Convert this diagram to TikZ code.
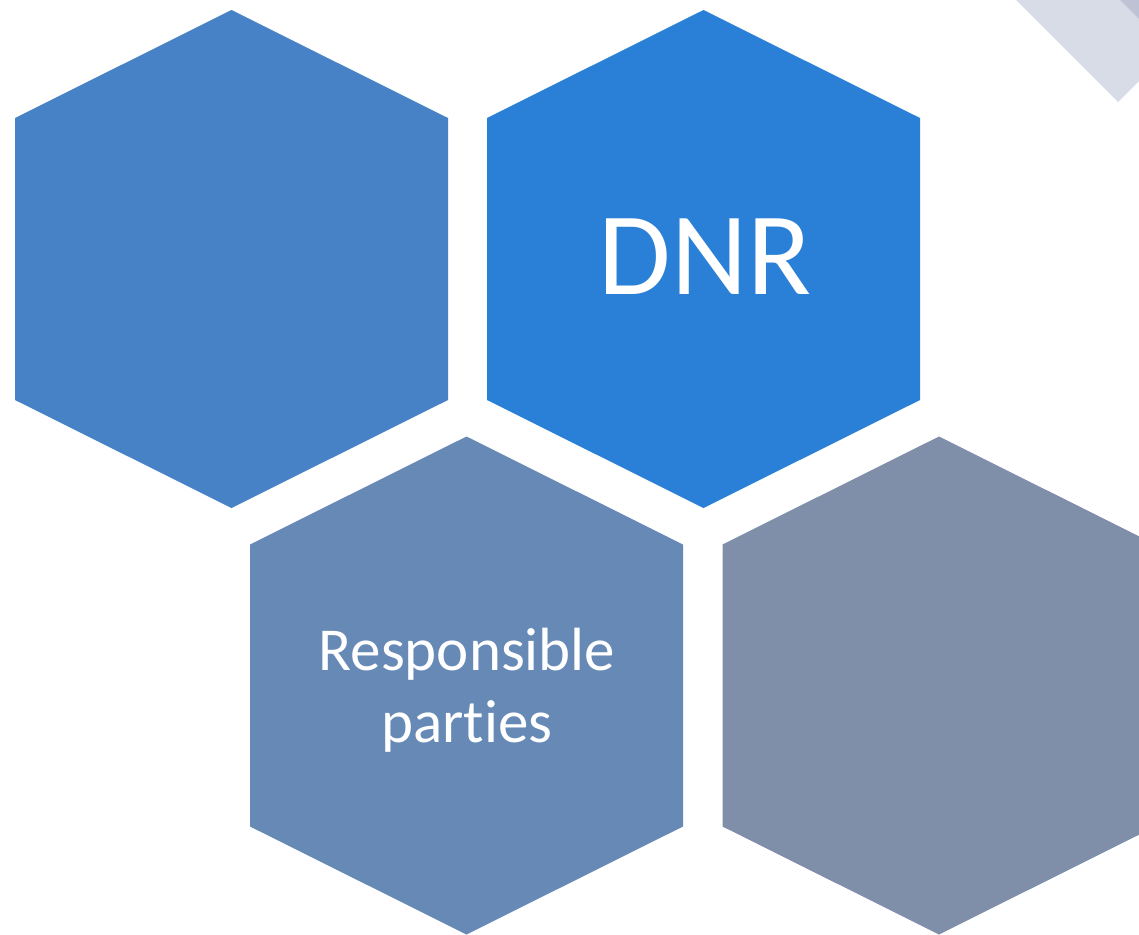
\documentclass[tikz,border=0pt]{standalone}
\usepackage{fontspec}
\setmainfont{Carlito}[Ligatures=NoCommon]
\definecolor{hexone}{HTML}{4682C5}
\definecolor{hextwo}{HTML}{2A7FD6}
\definecolor{hexthree}{HTML}{6689B6}
\definecolor{hexfour}{HTML}{7F8FAA}
\definecolor{bandlight}{HTML}{D8DCE6}
\definecolor{banddark}{HTML}{BDC3D4}
\tikzset{hextext/.style={text=white, align=center}}
\begin{document}
\begin{tikzpicture}[x=1pt,y=-1pt]
            \useasboundingbox (0,0) rectangle (1139,934);
            \clip (0,0) rectangle (1139,934);
            % corner band
            \fill [bandlight] (1016,0) -- (1118,102) -- (1160,60) -- (1160,0) -- cycle;
            \fill [banddark] (1120,0) -- (1160,40) -- (1160,0) -- cycle;
            % hexagons
            \foreach \cx/\cy/\col in {231.5/259/hexone, 703.5/259/hextwo, 466.5/685.5/hexthree, 939/685.5/hexfour}
                \fill [\col] (\cx,\cy-249) -- (\cx+216.5,\cy-141) -- (\cx+216.5,\cy+141) -- (\cx,\cy+249) -- (\cx-216.5,\cy+141) -- (\cx-216.5,\cy-141) -- cycle;
            \node [hextext, font=\fontsize{118}{130}\selectfont] (dnr) at (705,257) {DNR};
            \node [hextext, font=\fontsize{61}{72}\selectfont] (parties) at (467,690) {Responsible\\parties};
        \end{tikzpicture}
\end{document}
